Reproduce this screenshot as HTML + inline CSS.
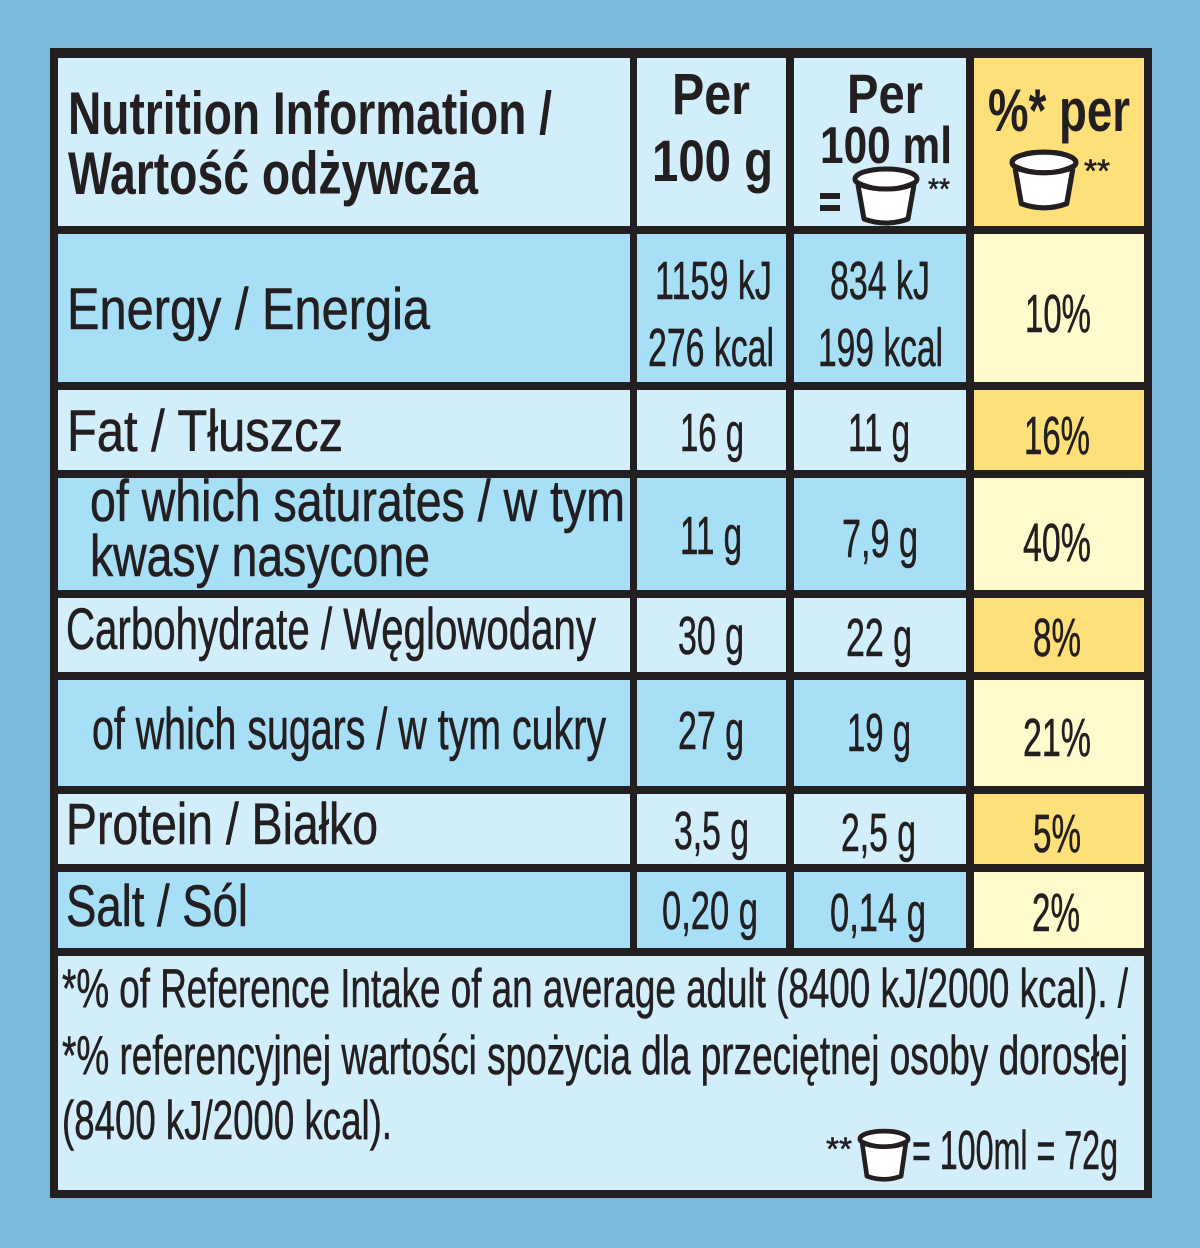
<!DOCTYPE html>
<html><head><meta charset="utf-8">
<style>
html,body{margin:0;padding:0}
body{width:1200px;height:1248px;background:#7ab9d7;position:relative;overflow:hidden;font-family:"Liberation Sans",sans-serif;color:#231f20}
.c{position:absolute}
.t{position:absolute;white-space:nowrap;line-height:1;transform-origin:0 0;-webkit-text-stroke:0.6px #231f20}
.b{font-weight:bold;-webkit-text-stroke:0}
.L{background:#d3eefb}.M{background:#a7dff7}.Y{background:#fee07a}.P{background:#fffacb}
</style></head><body>
<div class="c" style="left:50px;top:48px;width:1102px;height:1150px;background:#231f20"></div>
<div class="c L" style="left:58px;top:58px;width:572px;height:168px"></div>
<div class="c L" style="left:637px;top:58px;width:149px;height:168px"></div>
<div class="c L" style="left:794px;top:58px;width:172px;height:168px"></div>
<div class="c Y" style="left:974px;top:58px;width:170px;height:168px"></div>
<div class="c M" style="left:58px;top:234px;width:572px;height:148px"></div>
<div class="c M" style="left:637px;top:234px;width:149px;height:148px"></div>
<div class="c M" style="left:794px;top:234px;width:172px;height:148px"></div>
<div class="c P" style="left:974px;top:234px;width:170px;height:148px"></div>
<div class="c L" style="left:58px;top:390px;width:572px;height:80px"></div>
<div class="c L" style="left:637px;top:390px;width:149px;height:80px"></div>
<div class="c L" style="left:794px;top:390px;width:172px;height:80px"></div>
<div class="c Y" style="left:974px;top:390px;width:170px;height:80px"></div>
<div class="c M" style="left:58px;top:478px;width:572px;height:112px"></div>
<div class="c M" style="left:637px;top:478px;width:149px;height:112px"></div>
<div class="c M" style="left:794px;top:478px;width:172px;height:112px"></div>
<div class="c P" style="left:974px;top:478px;width:170px;height:112px"></div>
<div class="c L" style="left:58px;top:598px;width:572px;height:74px"></div>
<div class="c L" style="left:637px;top:598px;width:149px;height:74px"></div>
<div class="c L" style="left:794px;top:598px;width:172px;height:74px"></div>
<div class="c Y" style="left:974px;top:598px;width:170px;height:74px"></div>
<div class="c M" style="left:58px;top:680px;width:572px;height:106px"></div>
<div class="c M" style="left:637px;top:680px;width:149px;height:106px"></div>
<div class="c M" style="left:794px;top:680px;width:172px;height:106px"></div>
<div class="c P" style="left:974px;top:680px;width:170px;height:106px"></div>
<div class="c L" style="left:58px;top:794px;width:572px;height:70px"></div>
<div class="c L" style="left:637px;top:794px;width:149px;height:70px"></div>
<div class="c L" style="left:794px;top:794px;width:172px;height:70px"></div>
<div class="c Y" style="left:974px;top:794px;width:170px;height:70px"></div>
<div class="c M" style="left:58px;top:872px;width:572px;height:76px"></div>
<div class="c M" style="left:637px;top:872px;width:149px;height:76px"></div>
<div class="c M" style="left:794px;top:872px;width:172px;height:76px"></div>
<div class="c P" style="left:974px;top:872px;width:170px;height:76px"></div>
<div class="c L" style="left:58px;top:956px;width:1086px;height:234px"></div>

<svg class="c" style="left:850px;top:165px" width="72" height="64" viewBox="0 0 72 64">
<path d="M8 20 L14 54 Q36 62 58 54 L64 20" fill="#fff" stroke="#231f20" stroke-width="5" stroke-linejoin="round"/>
<ellipse cx="36" cy="14" rx="31" ry="10" fill="#fff" stroke="#231f20" stroke-width="5"/>
<path d="M5 16 Q36 32 67 16" fill="none" stroke="#231f20" stroke-width="4"/>
</svg>
<svg class="c" style="left:1006px;top:148px" width="76" height="66" viewBox="0 0 72 64">
<path d="M8 20 L14 54 Q36 62 58 54 L64 20" fill="#fff" stroke="#231f20" stroke-width="5" stroke-linejoin="round"/>
<ellipse cx="36" cy="14" rx="31" ry="10" fill="#fff" stroke="#231f20" stroke-width="5"/>
<path d="M5 16 Q36 32 67 16" fill="none" stroke="#231f20" stroke-width="4"/>
</svg>
<svg class="c" style="left:856px;top:1128px" width="56" height="56" viewBox="0 0 72 72">
<path d="M8 20 L14 62 Q36 70 58 62 L64 20" fill="#fff" stroke="#231f20" stroke-width="6" stroke-linejoin="round"/>
<ellipse cx="36" cy="14" rx="31" ry="10" fill="#fff" stroke="#231f20" stroke-width="6"/>
<path d="M5 16 Q36 32 67 16" fill="none" stroke="#231f20" stroke-width="5"/>
</svg>
<div class="c" style="left:820px;top:193px;width:20px;height:6px;background:#231f20"></div>
<div class="c" style="left:820px;top:205px;width:20px;height:6px;background:#231f20"></div>

<div id="texts">
<span class="t b" data-x="68" data-y="135" data-w="484" data-s="60">Nutrition Information /</span>
<span class="t b" data-x="68" data-y="195" data-w="410" data-s="60">Wartość odżywcza</span>
<span class="t b" data-cx="711" data-y="115" data-w="78" data-s="58">Per</span>
<span class="t b" data-cx="712" data-y="182" data-w="121" data-s="58">100 g</span>
<span class="t b" data-cx="885" data-y="113" data-w="76" data-s="56">Per</span>
<span class="t b" data-cx="886" data-y="164" data-w="132" data-s="52">100 ml</span>
<span class="t" data-x="928" data-y="200" data-w="22" data-s="30">**</span>
<span class="t b" data-x="988" data-y="132" data-w="142" data-s="60">%* per</span>
<span class="t" data-x="1084" data-y="182" data-w="26" data-s="32">**</span>

<span class="t" data-x="67" data-y="330" data-w="363" data-s="58">Energy / Energia</span>
<span class="t" data-cx="713" data-y="300" data-w="117" data-s="54">1159 kJ</span>
<span class="t" data-cx="711" data-y="367" data-w="126" data-s="54">276 kcal</span>
<span class="t" data-cx="880" data-y="300" data-w="100" data-s="54">834 kJ</span>
<span class="t" data-cx="880" data-y="367" data-w="125" data-s="54">199 kcal</span>
<span class="t" data-cx="1058" data-y="333" data-w="66" data-s="54">10%</span>

<span class="t" data-x="67" data-y="452" data-w="276" data-s="58">Fat / Tłuszcz</span>
<span class="t" data-cx="712" data-y="452" data-w="64" data-s="54">16 g</span>
<span class="t" data-cx="879" data-y="452" data-w="62" data-s="54">11 g</span>
<span class="t" data-cx="1057" data-y="455" data-w="66" data-s="54">16%</span>

<span class="t" data-x="90" data-y="522" data-w="535" data-s="58">of which saturates / w tym</span>
<span class="t" data-x="90" data-y="577" data-w="340" data-s="58">kwasy nasycone</span>
<span class="t" data-cx="711" data-y="555" data-w="62" data-s="54">11 g</span>
<span class="t" data-cx="880" data-y="558" data-w="76" data-s="54">7,9 g</span>
<span class="t" data-cx="1057" data-y="562" data-w="68" data-s="54">40%</span>

<span class="t" data-x="66" data-y="650" data-w="530" data-s="58">Carbohydrate / Węglowodany</span>
<span class="t" data-cx="711" data-y="655" data-w="66" data-s="54">30 g</span>
<span class="t" data-cx="879" data-y="657" data-w="66" data-s="54">22 g</span>
<span class="t" data-cx="1057" data-y="657" data-w="48" data-s="54">8%</span>

<span class="t" data-x="92" data-y="750" data-w="514" data-s="58">of which sugars / w tym cukry</span>
<span class="t" data-cx="711" data-y="750" data-w="66" data-s="54">27 g</span>
<span class="t" data-cx="879" data-y="752" data-w="64" data-s="54">19 g</span>
<span class="t" data-cx="1057" data-y="757" data-w="68" data-s="54">21%</span>

<span class="t" data-x="66" data-y="845" data-w="312" data-s="58">Protein / Białko</span>
<span class="t" data-cx="711" data-y="850" data-w="75" data-s="54">3,5 g</span>
<span class="t" data-cx="878" data-y="852" data-w="75" data-s="54">2,5 g</span>
<span class="t" data-cx="1057" data-y="853" data-w="48" data-s="54">5%</span>

<span class="t" data-x="66" data-y="927" data-w="182" data-s="58">Salt / Sól</span>
<span class="t" data-cx="710" data-y="930" data-w="96" data-s="54">0,20 g</span>
<span class="t" data-cx="878" data-y="932" data-w="96" data-s="54">0,14 g</span>
<span class="t" data-cx="1056" data-y="932" data-w="48" data-s="54">2%</span>

<span class="t" data-x="62" data-y="1008" data-w="1066" data-s="55">*% of Reference Intake of an average adult (8400 kJ/2000 kcal). /</span>
<span class="t" data-x="62" data-y="1075" data-w="1066" data-s="55">*% referencyjnej wartości spożycia dla przeciętnej osoby dorosłej</span>
<span class="t" data-x="62" data-y="1140" data-w="330" data-s="55">(8400 kJ/2000 kcal).</span>
<span class="t" data-x="826" data-y="1160" data-w="26" data-s="32">**</span>
<span class="t" data-x="912" data-y="1170" data-w="206" data-s="55">= 100ml = 72g</span>
</div>
<script>
document.querySelectorAll('.t').forEach(function(e){
  var s=+e.dataset.s, w=+e.dataset.w;
  e.style.fontSize=s+'px';
  var nw=e.getBoundingClientRect().width;
  var k=w/nw;
  var left = e.dataset.cx!==undefined ? (+e.dataset.cx - w/2) : +e.dataset.x;
  e.style.left=left+'px';
  e.style.top=(+e.dataset.y - 0.847*s)+'px';
  e.style.transform='scaleX('+k+')';
});
</script>
</body></html>
